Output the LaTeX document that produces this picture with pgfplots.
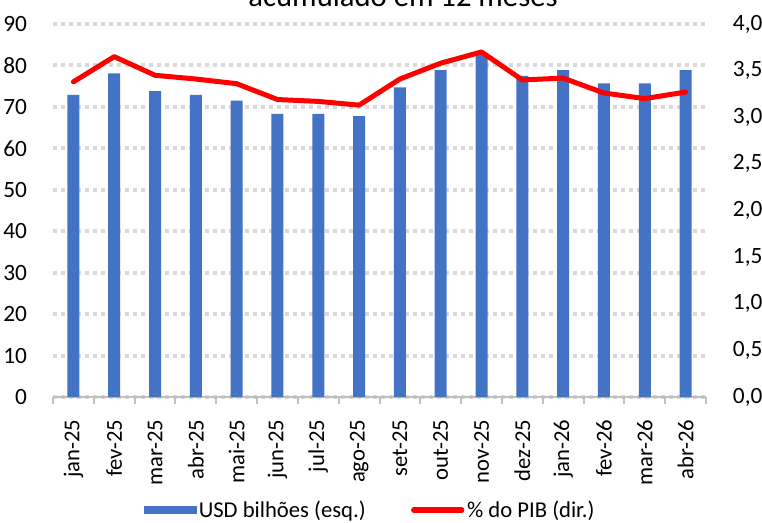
\documentclass[border=0pt]{standalone}
\usepackage{pgfplots}
\pgfplotsset{compat=1.18}
\usepackage{fontspec}
\setmainfont{Carlito}
\definecolor{barblue}{HTML}{4472C4}
\definecolor{gridgray}{HTML}{D9D9D9}
\definecolor{axgray}{HTML}{BFBFBF}
\begin{document}
\begin{tikzpicture}
\pgfplotsset{every axis/.append style={
  width=489.75pt, height=279.75pt, scale only axis,
  xmin=-0.5, xmax=15.5, at={(0pt,0pt)}, anchor=south west,
  /pgf/number format/assume math mode=true,
  yticklabel style={font=\fontsize{17.5}{20}\selectfont},
  xticklabel style={font=\fontsize{17}{20}\selectfont},
}}
\begin{axis}[
  ymin=0, ymax=90, ytick={0,10,...,90},
  axis x line*=bottom, axis y line*=left,
  y axis line style={draw=none}, ytick style={draw=none},
  x axis line style={draw=axgray, line width=2pt},
  xtick={0,...,15},
  xticklabels={jan-25,fev-25,mar-25,abr-25,mai-25,jun-25,jul-25,ago-25,set-25,out-25,nov-25,dez-25,jan-26,fev-26,mar-26,abr-26},
  major x tick style={draw=none},
  minor xtick={-0.5,0.5,...,15.5},
  minor x tick style={draw=axgray, line width=1.5pt},
  minor tick length=5pt, tick align=outside,
  xticklabel style={rotate=90, anchor=east, inner xsep=12.5pt},
  yticklabel style={anchor=east, inner xsep=15pt},
  ymajorgrids, major grid style={draw=gridgray, line width=3pt, dash pattern=on 3pt off 3pt},
]
\addplot[ybar, bar width=9pt, fill=barblue, draw=none] coordinates {
(0,72.9) (1,78.1) (2,73.8) (3,72.9) (4,71.5) (5,68.3) (6,68.3) (7,67.8)
(8,74.7) (9,78.9) (10,82.9) (11,77.5) (12,78.9) (13,75.7) (14,75.7) (15,78.9)};
\end{axis}
\begin{axis}[
  ymin=0, ymax=4, ytick={0,0.5,...,4},
  axis y line*=right, axis x line=none,
  y axis line style={draw=none}, ytick style={draw=none},
  yticklabel style={anchor=west, inner xsep=20pt, /pgf/number format/.cd, use comma, fixed, fixed zerofill, precision=1},
  legend columns=2,
  legend style={draw=none, fill=none, font=\fontsize{17}{20}\selectfont, at={(0.486,-0.303)}, anchor=center,
    /tikz/every even column/.append style={column sep=32pt}},
]
\addlegendimage{legend image code/.code={\fill[barblue] (0pt,-2.6pt) rectangle (39pt,2.6pt);}}
\addlegendentry{USD bilhões (esq.)}
\addplot[red, line width=3.75pt, line join=round, line cap=round,
  legend image code/.code={\draw[red,line width=4pt,line cap=round] (2pt,0pt) -- (38pt,0pt);}] coordinates {
(0,3.38) (1,3.65) (2,3.45) (3,3.41) (4,3.36) (5,3.19) (6,3.17) (7,3.13)
(8,3.41) (9,3.58) (10,3.70) (11,3.40) (12,3.42) (13,3.26) (14,3.20) (15,3.27)};
\addlegendentry{\% do PIB (dir.)}
\end{axis}
\node[font=\fontsize{23}{27}\selectfont, anchor=base] at (262.5pt,292.5pt) {acumulado em 12 meses};
\pgfresetboundingbox
\useasboundingbox (-39.75pt,-93.75pt) rectangle (531.75pt,297.75pt);
\end{tikzpicture}
\end{document}
